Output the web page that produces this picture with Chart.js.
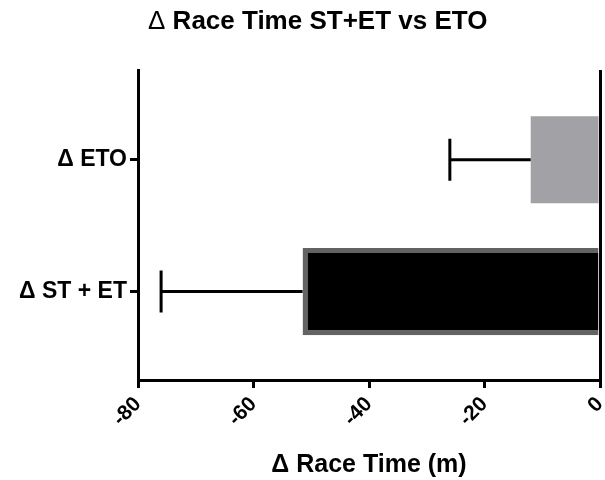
<!DOCTYPE html>
<html>
<head>
<meta charset="utf-8">
<script src="https://cdn.jsdelivr.net/npm/chart.js@4"></script>
<style>
  html, body { margin: 0; padding: 0; background: #fff; }
  #wrap { position: relative; width: 605px; height: 480px; }
  #title { position: absolute; left: 148px; top: 5px; font: bold 26px "Liberation Sans", Arial, sans-serif; color: #000; white-space: nowrap; }
  #title .d { font-weight: normal; }
</style>
</head>
<body>
<div id="wrap">
  <canvas id="c" width="605" height="480"></canvas>
  <div id="title"><span class="d">Δ</span> Race Time ST+ET vs ETO</div>
</div>
<script>
const categories = ['Δ ETO', 'Δ ST + ET'];
const meanValues = [-12, -51.5];
const errorEnds = [-26, -76];
const xTicks = [-80, -60, -40, -20, 0];

const fillColors = ['#a2a1a6', '#000000'];
const borderColors = ['#a2a1a6', '#636363'];
const borderWidths = [0, 5];

const errorBarPlugin = {
  id: 'errorBars',
  afterDatasetsDraw(chart) {
    const xs = chart.scales.x, ys = chart.scales.y;
    const ctx = chart.ctx;
    ctx.save();
    ctx.strokeStyle = '#000';
    ctx.lineWidth = 3;
    ctx.lineCap = 'butt';
    for (let i = 0; i < meanValues.length; i++) {
      const x0 = xs.getPixelForValue(meanValues[i]);
      const x1 = xs.getPixelForValue(errorEnds[i]);
      const y = ys.getPixelForValue(i);
      ctx.beginPath();
      ctx.moveTo(x0, y); ctx.lineTo(x1, y);
      ctx.moveTo(x1, y - 21); ctx.lineTo(x1, y + 21);
      ctx.stroke();
    }
    ctx.restore();
  }
};

const fontFam = '"Liberation Sans", Arial, sans-serif';

new Chart(document.getElementById('c'), {
  type: 'bar',
  data: {
    datasets: [{
      data: meanValues.map((v, i) => ({ x: v, y: i })),
      backgroundColor: fillColors,
      borderColor: borderColors,
      borderWidth: borderWidths,
      borderSkipped: 'start',
      barPercentage: 0.66,
      categoryPercentage: 1
    }]
  },
  options: {
    indexAxis: 'y',
    responsive: false,
    animation: false,
    devicePixelRatio: 1,
    layout: { padding: { top: 70, right: 5, left: 0, bottom: 0 } },
    plugins: { legend: { display: false }, tooltip: { enabled: false }, title: { display: false } },
    scales: {
      x: {
        type: 'linear',
        min: -80, max: 0,
        afterBuildTicks(s) { s.ticks = xTicks.map(v => ({ value: v })); },
        afterFit(s) { s.height = 100; s.paddingRight = 0; s.paddingLeft = 0; },
        border: { display: true, color: '#000', width: 3 },
        grid: {
          drawOnChartArea: true,
          color: (c) => (c.tick && c.tick.value === 0) ? '#000' : 'rgba(0,0,0,0)',
          lineWidth: 3,
          tickColor: '#000',
          tickLength: 8
        },
        ticks: {
          color: '#000',
          font: { family: fontFam, size: 21, weight: 'bold' },
          minRotation: 45, maxRotation: 45,
          padding: 4
        },
        title: {
          display: true,
          text: 'Δ Race Time (m)',
          color: '#000',
          font: { family: fontFam, size: 25, weight: 'bold' },
          padding: { top: 6, bottom: 0 }
        }
      },
      y: {
        type: 'linear',
        reverse: true,
        offset: false,
        min: -0.68, max: 1.67,
        afterBuildTicks(s) { s.ticks = categories.map((_, i) => ({ value: i })); },
        afterFit(s) { s.width = 138; s.paddingTop = 0; s.paddingBottom = 0; },
        border: { display: true, color: '#000', width: 3 },
        grid: { offset: false, drawOnChartArea: false, color: '#000', lineWidth: 3, tickLength: 8 },
        ticks: {
          color: '#000',
          font: { family: fontFam, size: 23, weight: 'bold' },
          padding: 3,
          callback: (v) => categories[v] ?? ''
        }
      }
    }
  },
  plugins: [errorBarPlugin]
});
</script>
</body>
</html>
